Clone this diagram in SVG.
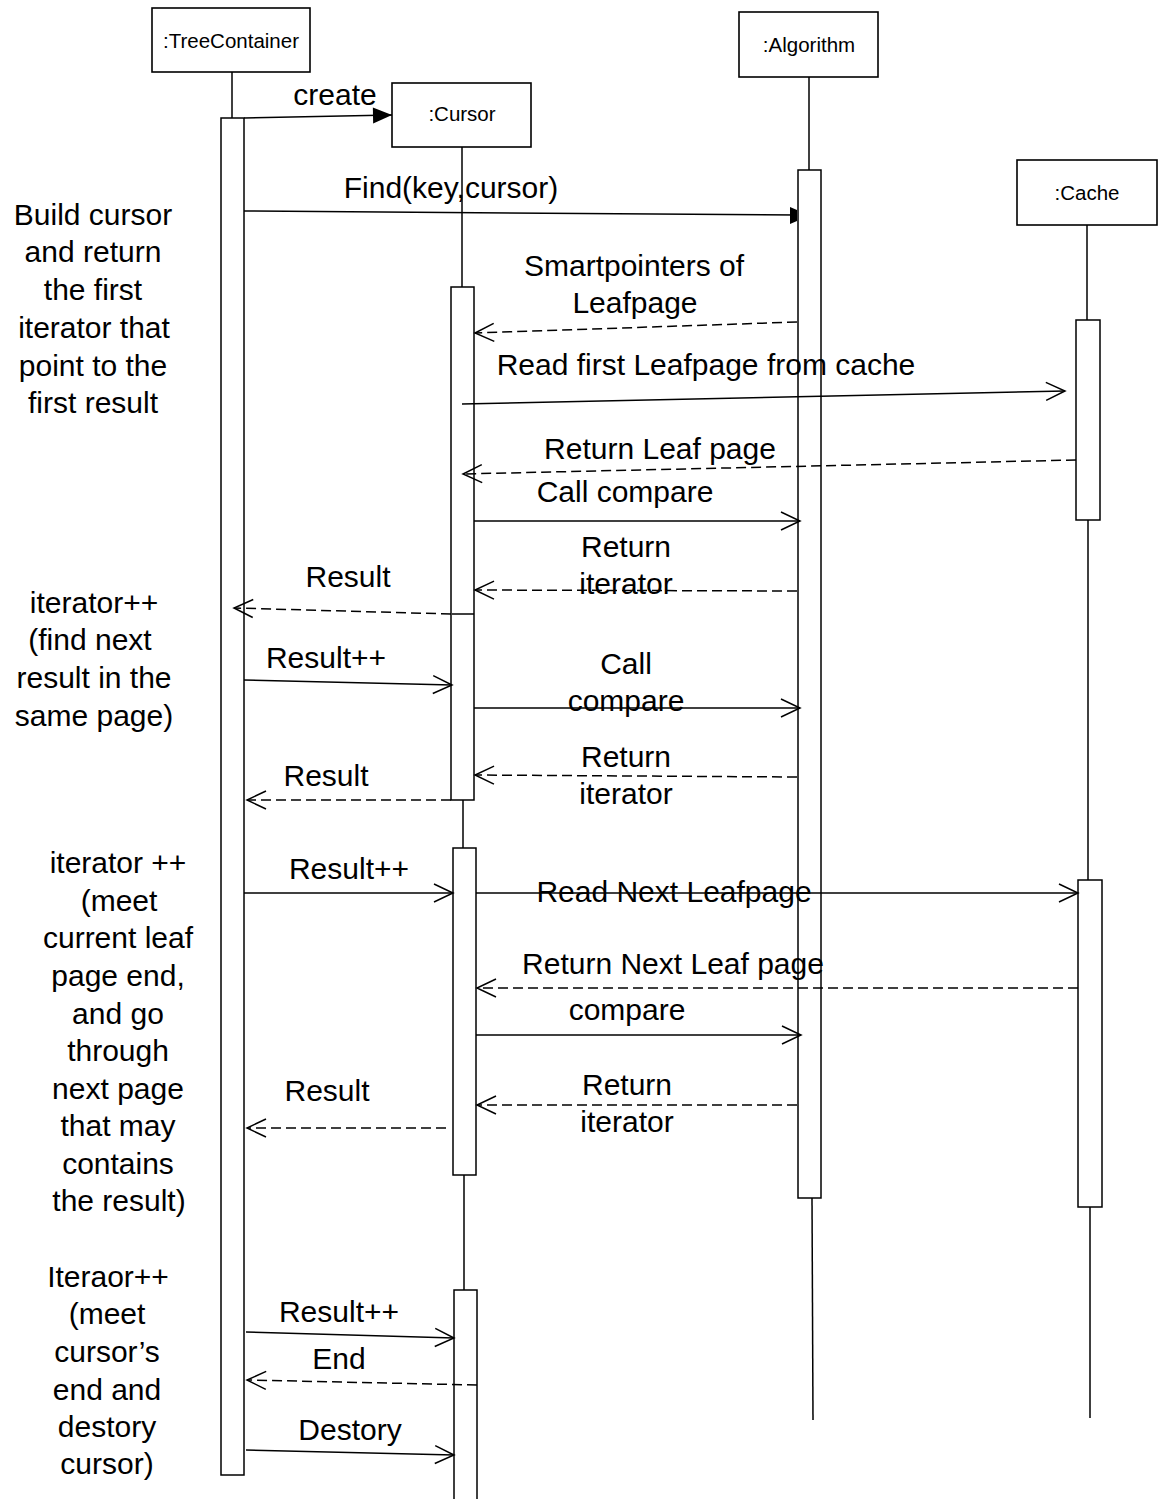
<svg xmlns="http://www.w3.org/2000/svg" width="1161" height="1499" viewBox="0 0 1161 1499">
  <style>
    .box { fill: #fff; stroke: #000; stroke-width: 1.6; }
    .bar { fill: #fff; stroke: #000; stroke-width: 1.5; }
    .life { stroke: #000; stroke-width: 1.5; fill: none; }
    .msg { stroke: #000; stroke-width: 1.5; fill: none; marker-end: url(#open); }
    .ret { stroke: #000; stroke-width: 1.5; fill: none; stroke-dasharray: 10 5; marker-end: url(#open); }
    .call { stroke: #000; stroke-width: 1.5; fill: none; marker-end: url(#solid); }
    .name { font-family: "Liberation Sans", Arial, sans-serif; font-size: 20.5px; text-anchor: middle; fill: #000; }
    .lbl { font-family: "Liberation Sans", Arial, sans-serif; font-size: 30px; text-anchor: middle; fill: #000; }
    .note { font-family: "Liberation Sans", Arial, sans-serif; font-size: 30px; text-anchor: middle; fill: #000; }
  </style>
  <defs>
    <marker id="open" viewBox="-22 -11 24 22" refX="0" refY="0" markerWidth="24" markerHeight="22" markerUnits="userSpaceOnUse" orient="auto">
      <path d="M-19,-9 L0,0 L-19,9" fill="none" stroke="#000" stroke-width="1.5" stroke-dasharray="none"/>
    </marker>
    <marker id="solid" viewBox="-22 -11 24 22" refX="0" refY="0" markerWidth="24" markerHeight="22" markerUnits="userSpaceOnUse" orient="auto">
      <path d="M-19,-8 L0,0 L-19,8 Z" fill="#000" stroke="none"/>
    </marker>
  </defs>
  <rect width="1161" height="1499" fill="#fff"/>

  <!-- participants: head box, lifeline and activation bars -->
  <g id="treecontainer">
    <rect class="box" x="152" y="8" width="158" height="64"/>
    <text class="name" x="231" y="48">:TreeContainer</text>
    <line class="life" x1="232" y1="72" x2="232" y2="118"/>
    <rect class="bar" x="221" y="118" width="23" height="1357"/>
  </g>
  <g id="cursor">
    <rect class="box" x="392" y="83" width="139" height="64"/>
    <text class="name" x="462" y="121">:Cursor</text>
    <line class="life" x1="462" y1="147" x2="462" y2="287"/>
    <line class="life" x1="463" y1="800" x2="463" y2="848"/>
    <line class="life" x1="464" y1="1175" x2="464" y2="1290"/>
    <rect class="bar" x="451" y="287" width="23" height="513"/>
    <line class="life" x1="452" y1="614" x2="474" y2="614"/>
    <rect class="bar" x="453" y="848" width="23" height="327"/>
    <rect class="bar" x="454" y="1290" width="23" height="215"/>
  </g>
  <g id="algorithm">
    <rect class="box" x="739" y="12" width="139" height="65"/>
    <text class="name" x="809" y="52">:Algorithm</text>
    <line class="life" x1="809" y1="77" x2="809" y2="170"/>
    <line class="life" x1="812" y1="1198" x2="813" y2="1420"/>
    <rect class="bar" x="798" y="170" width="23" height="1028"/>
  </g>
  <g id="cache">
    <rect class="box" x="1017" y="160" width="140" height="65"/>
    <text class="name" x="1087" y="200">:Cache</text>
    <line class="life" x1="1087" y1="225" x2="1087" y2="320"/>
    <line class="life" x1="1088" y1="520" x2="1088" y2="880"/>
    <line class="life" x1="1090" y1="1207" x2="1090" y2="1418"/>
    <rect class="bar" x="1076" y="320" width="24" height="200"/>
    <rect class="bar" x="1078" y="880" width="24" height="327"/>
  </g>

  <!-- messages -->
  <g id="connectors">
    <path class="call" d="M244,118 L392,115"/>
    <path class="life" d="M244,211 L797,215"/>
    <polygon points="790,207 797,210 797,221 790,224" fill="#000"/>
    <path class="ret" d="M797,322 L475,333"/>
    <path class="msg" d="M462,404 L1065,391"/>
    <path class="ret" d="M1076,460 L463,474"/>
    <path class="msg" d="M474,521 L800,521"/>
    <path class="ret" d="M797,591 L475,590"/>
    <path class="ret" d="M451,614 L234,608"/>
    <path class="msg" d="M244,680 L452,685"/>
    <path class="msg" d="M474,708 L800,708"/>
    <path class="ret" d="M797,777 L475,775"/>
    <path class="ret" d="M451,800 L247,800"/>
    <path class="msg" d="M244,893 L453,893"/>
    <path class="msg" d="M476,893 L1078,893"/>
    <path class="ret" d="M1078,988 L477,988"/>
    <path class="msg" d="M476,1035 L801,1035"/>
    <path class="ret" d="M797,1105 L477,1105"/>
    <path class="ret" d="M446,1128 L247,1128"/>
    <path class="msg" d="M246,1332 L454,1338"/>
    <path class="ret" d="M477,1385 L247,1380"/>
    <path class="msg" d="M246,1450 L454,1455"/>
  </g>

  <!-- message labels -->
  <g id="labels">
    <text class="lbl" x="335" y="105">create</text>
    <text class="lbl" x="451" y="198">Find(key,cursor)</text>
    <text class="lbl" x="634" y="276">Smartpointers of</text>
    <text class="lbl" x="635" y="313">Leafpage</text>
    <text class="lbl" x="706" y="375">Read first Leafpage from cache</text>
    <text class="lbl" x="660" y="459">Return Leaf page</text>
    <text class="lbl" x="625" y="502">Call compare</text>
    <text class="lbl" x="626" y="557">Return</text>
    <text class="lbl" x="626" y="594">iterator</text>
    <text class="lbl" x="348" y="587">Result</text>
    <text class="lbl" x="326" y="668">Result++</text>
    <text class="lbl" x="626" y="674">Call</text>
    <text class="lbl" x="626" y="711">compare</text>
    <text class="lbl" x="626" y="767">Return</text>
    <text class="lbl" x="626" y="804">iterator</text>
    <text class="lbl" x="326" y="786">Result</text>
    <text class="lbl" x="349" y="879">Result++</text>
    <text class="lbl" x="674" y="902">Read Next Leafpage</text>
    <text class="lbl" x="673" y="974">Return Next Leaf page</text>
    <text class="lbl" x="627" y="1020">compare</text>
    <text class="lbl" x="627" y="1095">Return</text>
    <text class="lbl" x="627" y="1132">iterator</text>
    <text class="lbl" x="327" y="1101">Result</text>
    <text class="lbl" x="339" y="1322">Result++</text>
    <text class="lbl" x="339" y="1369">End</text>
    <text class="lbl" x="350" y="1440">Destory</text>
  </g>

  <!-- side notes -->
  <g id="notes">
    <text class="note" x="93" y="225">Build cursor</text>
    <text class="note" x="93" y="262">and return</text>
    <text class="note" x="93" y="300">the first</text>
    <text class="note" x="94" y="338">iterator that</text>
    <text class="note" x="93" y="376">point to the</text>
    <text class="note" x="93" y="413">first result</text>

    <text class="note" x="94" y="613">iterator++</text>
    <text class="note" x="90" y="650">(find next</text>
    <text class="note" x="94" y="688">result in the</text>
    <text class="note" x="94" y="726">same page)</text>

    <text class="note" x="118" y="873">iterator ++</text>
    <text class="note" x="119" y="911">(meet</text>
    <text class="note" x="118" y="948">current leaf</text>
    <text class="note" x="118" y="986">page end,</text>
    <text class="note" x="118" y="1024">and go</text>
    <text class="note" x="118" y="1061">through</text>
    <text class="note" x="118" y="1099">next page</text>
    <text class="note" x="118" y="1136">that may</text>
    <text class="note" x="118" y="1174">contains</text>
    <text class="note" x="119" y="1211">the result)</text>

    <text class="note" x="108" y="1287">Iteraor++</text>
    <text class="note" x="107" y="1324">(meet</text>
    <text class="note" x="107" y="1362">cursor’s</text>
    <text class="note" x="107" y="1400">end and</text>
    <text class="note" x="107" y="1437">destory</text>
    <text class="note" x="107" y="1474">cursor)</text>
  </g>
</svg>
